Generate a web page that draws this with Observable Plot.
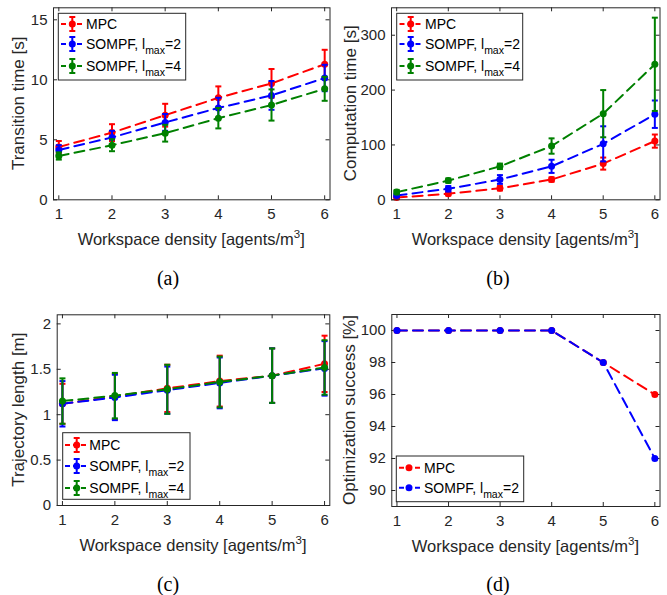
<!DOCTYPE html>
<html><head><meta charset="utf-8">
<script src="https://cdn.jsdelivr.net/npm/d3@7"></script>
<script src="https://cdn.jsdelivr.net/npm/@observablehq/plot@0.6"></script>
<style>
body{margin:0;background:#fff;}
#wrap{position:relative;width:667px;height:595px;overflow:hidden;background:#fff;}
.panel{position:absolute;}
.cap{position:absolute;font-family:"Liberation Serif","Times New Roman",serif;font-size:20px;color:#000;transform:translate(-50%,-50%);line-height:1;}
</style></head><body><div id="wrap"></div>
<script>
// ---------- data ----------
const densities = [1, 2, 3, 4, 5, 6];
const xTicks = [1, 2, 3, 4, 5, 6];
const seriesLabels = ["MPC", "SOMPF, l", "SOMPF, l"];
const seriesSubs = ["", "max", "max"];
const seriesSuffix = ["", "=2", "=4"];
const seriesColors = ["#ff0000", "#0000ff", "#008000"];

// (a) Transition time [s]
const transMPC = [4.4, 5.6, 7.05, 8.5, 9.7, 11.3];
const transMPCErr = [0.5, 0.7, 0.95, 0.95, 1.2, 1.2];
const transS2 = [4.15, 5.2, 6.45, 7.65, 8.7, 10.15];
const transS2Err = [0.4, 0.55, 0.7, 0.85, 1.2, 1.1];
const transS4 = [3.65, 4.55, 5.55, 6.8, 7.9, 9.25];
const transS4Err = [0.3, 0.5, 0.7, 0.85, 1.3, 1.0];
const transTicks = [0, 5, 10, 15];

// (b) Computation time [s]
const compMPC = [4, 11, 21, 37, 66, 107];
const compMPCErr = [2, 3, 4, 4, 11, 12];
const compS2 = [8, 20, 37, 61, 102, 156];
const compS2Err = [3, 5, 8, 12, 32, 25];
const compS4 = [14, 35, 61, 98, 157, 247];
const compS4Err = [4, 4, 5, 14, 43, 85];
const compTicks = [0, 100, 200, 300];

// (c) Trajectory length [m]
const trajMPC = [1.12, 1.20, 1.29, 1.37, 1.43, 1.56];
const trajMPCErr = [0.22, 0.25, 0.26, 0.28, 0.30, 0.31];
const trajS2 = [1.12, 1.19, 1.27, 1.35, 1.43, 1.51];
const trajS2Err = [0.25, 0.25, 0.26, 0.28, 0.30, 0.30];
const trajS4 = [1.15, 1.21, 1.28, 1.36, 1.43, 1.52];
const trajS4Err = [0.25, 0.25, 0.27, 0.28, 0.30, 0.30];
const trajTicks = [0, 0.5, 1, 1.5, 2];

// (d) Optimization success [%]
const succMPC = [100, 100, 100, 100, 98, 96];
const succS2 = [100, 100, 100, 100, 98, 92];
const succTicks = [90, 92, 94, 96, 98, 100];

const xLabel = "Workspace density [agents/m";
const captions = ["(a)", "(b)", "(c)", "(d)"];

// ---------- drawing ----------
const AX = "#262626";
const FONT = '"Liberation Sans", Arial, Helvetica, sans-serif';
const capSymbol = {draw(ctx) { ctx.moveTo(-3, 0); ctx.lineTo(3, 0); }};
const wrap = document.getElementById("wrap");

function panel(o) {
  const [fl, fr, ft, fb] = o.frame;
  const mL = fl - o.left, mR = o.left + o.width - fr, mT = ft - o.top, mB = o.top + o.height - fb;
  const innerW = fr - fl, innerH = fb - ft;
  const xs = o.xDomain[1] - o.xDomain[0], ys = o.yDomain[1] - o.yDomain[0];
  const tx = xs * 4 / innerW, ty = ys * 4 / innerH;
  const marks = [
    Plot.ruleX(xTicks, {y1: o.yDomain[0], y2: o.yDomain[0] + ty, stroke: AX}),
    Plot.ruleX(xTicks, {y1: o.yDomain[1], y2: o.yDomain[1] - ty, stroke: AX}),
    Plot.ruleY(o.yTicks, {x1: o.xDomain[0], x2: o.xDomain[0] + tx, stroke: AX}),
    Plot.ruleY(o.yTicks, {x1: o.xDomain[1], x2: o.xDomain[1] - tx, stroke: AX})
  ];
  o.series.forEach((s, k) => {
    const data = densities.map((x, i) => ({x, y: s.values[i], e: s.err ? s.err[i] : 0}));
    const c = seriesColors[k];
    marks.push(Plot.line(data, {x: "x", y: "y", stroke: c, strokeWidth: 2, strokeDasharray: "10,6"}));
    if (s.err) {
      marks.push(Plot.ruleX(data, {x: "x", y1: d => d.y - d.e, y2: d => d.y + d.e, stroke: c, strokeWidth: 2}));
      marks.push(Plot.dot(data, {x: "x", y: d => d.y + d.e, symbol: capSymbol, stroke: c, strokeWidth: 2, fill: "none"}));
      marks.push(Plot.dot(data, {x: "x", y: d => d.y - d.e, symbol: capSymbol, stroke: c, strokeWidth: 2, fill: "none"}));
    }
    marks.push(Plot.dot(data, {x: "x", y: "y", r: 3.5, fill: c, stroke: null}));
  });
  marks.push(Plot.frame({stroke: AX, strokeWidth: 1}));
  marks.push(Plot.axisX({ticks: xTicks, tickSize: 0, tickPadding: 9, label: null, fill: AX, tickFormat: d => String(d)}));
  marks.push(Plot.axisY({ticks: o.yTicks, tickSize: 0, tickPadding: 6, label: null, fill: AX, tickFormat: d => String(d)}));
  const svg = Plot.plot({
    width: o.width, height: o.height,
    marginLeft: mL, marginRight: mR, marginTop: mT, marginBottom: mB,
    x: {domain: o.xDomain}, y: {domain: o.yDomain},
    style: {fontFamily: FONT, fontSize: "15px", color: AX, background: "transparent", overflow: "visible"},
    marks
  });
  svg.classList.add("panel");
  svg.style.left = o.left + "px";
  svg.style.top = o.top + "px";
  wrap.appendChild(svg);
  const g = d3.select(svg).append("g").attr("transform", `translate(${-o.left},${-o.top})`)
    .attr("font-family", FONT).attr("fill", AX).attr("text-anchor", "start");
  // y label
  g.append("text").attr("transform", `translate(${o.ylabelX},${(ft + fb) / 2}) rotate(-90)`)
    .attr("text-anchor", "middle").attr("dy", "0.35em").attr("font-size", 17).text(o.ylabel);
  // x label
  const xt = g.append("text").attr("x", (fl + fr) / 2).attr("y", fb + 46).attr("text-anchor", "middle").attr("font-size", 16.5);
  xt.append("tspan").text(xLabel);
  xt.append("tspan").attr("dy", -7).attr("font-size", 11.5).text("3");
  xt.append("tspan").attr("dy", 7).text("]");
  // legend
  const L = o.legend;
  g.append("rect").attr("x", L.box[0]).attr("y", L.box[1]).attr("width", L.box[2] - L.box[0]).attr("height", L.box[3] - L.box[1])
    .attr("fill", "#fff").attr("stroke", AX).attr("stroke-width", 1);
  L.rows.forEach((yy, k) => {
    const c = seriesColors[k];
    g.append("line").attr("x1", L.line[0]).attr("x2", L.line[1]).attr("y1", yy).attr("y2", yy)
      .attr("stroke", c).attr("stroke-width", 2).attr("stroke-dasharray", "5,3");
    if (L.err) {
      g.append("line").attr("x1", L.mx).attr("x2", L.mx).attr("y1", yy - 7).attr("y2", yy + 7).attr("stroke", c).attr("stroke-width", 2);
      [yy - 7, yy + 7].forEach(v => g.append("line").attr("x1", L.mx - 3).attr("x2", L.mx + 3).attr("y1", v).attr("y2", v).attr("stroke", c).attr("stroke-width", 2));
    }
    g.append("circle").attr("cx", L.mx).attr("cy", yy).attr("r", 3.5).attr("fill", c);
    const t = g.append("text").attr("x", L.tx).attr("y", yy).attr("dy", "0.35em").attr("font-size", 14)
      .attr("fill", "#000").attr("text-anchor", "start");
    t.append("tspan").text(seriesLabels[k]);
    if (seriesSubs[k]) {
      t.append("tspan").attr("dy", 5).attr("font-size", 10.5).text(seriesSubs[k]);
      t.append("tspan").attr("dy", -5).text(seriesSuffix[k]);
    }
  });
}

panel({left: 0, top: 0, width: 333, height: 262, frame: [53, 329.5, 7.3, 199.3],
  xDomain: [0.9, 6.1], yDomain: [0, 16], yTicks: transTicks,
  ylabel: "Transition time [s]", ylabelX: 18.5,
  series: [{values: transMPC, err: transMPCErr}, {values: transS2, err: transS2Err}, {values: transS4, err: transS4Err}],
  legend: {box: [58.3, 13.3, 185.7, 80], rows: [24, 44, 66], line: [61, 83], mx: 72.3, tx: 86, err: true}});

panel({left: 333, top: 0, width: 334, height: 262, frame: [391, 659.5, 7.3, 199.3],
  xDomain: [0.9, 6.1], yDomain: [0, 350], yTicks: compTicks,
  ylabel: "Computation time [s]", ylabelX: 350,
  series: [{values: compMPC, err: compMPCErr}, {values: compS2, err: compS2Err}, {values: compS4, err: compS4Err}],
  legend: {box: [396.7, 13.3, 522.7, 80], rows: [24, 44, 66], line: [399.5, 421.5], mx: 410.7, tx: 425, err: true}});

panel({left: 0, top: 297, width: 333, height: 262, frame: [56.7, 329.3, 314.3, 505],
  xDomain: [0.9, 6.1], yDomain: [0, 2.1], yTicks: trajTicks,
  ylabel: "Trajectory length [m]", ylabelX: 18.5,
  series: [{values: trajMPC, err: trajMPCErr}, {values: trajS2, err: trajS2Err}, {values: trajS4, err: trajS4Err}],
  legend: {box: [62.7, 432.7, 190, 499.3], rows: [445, 466, 488], line: [65, 87], mx: 76.7, tx: 89.3, err: true}});

panel({left: 333, top: 297, width: 334, height: 262, frame: [391.3, 659.5, 314, 506],
  xDomain: [0.9, 6.1], yDomain: [89, 101], yTicks: succTicks,
  ylabel: "Optimization success [%]", ylabelX: 349,
  series: [{values: succMPC}, {values: succS2}],
  legend: {box: [396.3, 456, 523.7, 501.7], rows: [467.7, 487.7], line: [399, 422], mx: 409, tx: 424, err: false}});

const capPos = [[168, 278], [498, 278], [168, 584], [498, 584]];
captions.forEach((c, i) => {
  const d = document.createElement("div");
  d.className = "cap"; d.textContent = c;
  d.style.left = capPos[i][0] + "px"; d.style.top = capPos[i][1] + "px";
  wrap.appendChild(d);
});
</script></body></html>
